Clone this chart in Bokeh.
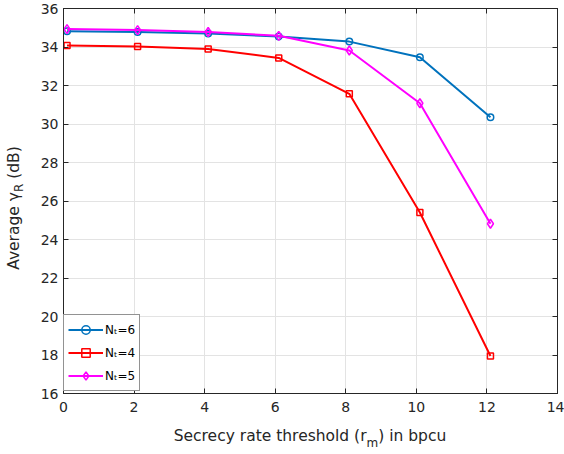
from bokeh.plotting import figure
from bokeh.models import Range1d, FixedTicker, LinearAxis, Legend, LegendItem, Div
from bokeh.layouts import row, column
from bokeh.embed import file_html
from bokeh.resources import INLINE

# Data
rate_threshold = [0.1, 2.1, 4.1, 6.1, 8.1, 10.1, 12.1]
gamma_nt6 = [34.82, 34.78, 34.70, 34.55, 34.28, 33.47, 30.35]
gamma_nt4 = [34.08, 34.03, 33.90, 33.43, 31.57, 25.40, 17.95]
gamma_nt5 = [34.93, 34.88, 34.78, 34.58, 33.82, 31.08, 24.82]
x_ticks = [0, 2, 4, 6, 8, 10, 12, 14]
y_ticks = [16, 18, 20, 22, 24, 26, 28, 30, 32, 34, 36]
series_labels = ["N\u209c=6", "N\u209c=4", "N\u209c=5"]

AX = "#262626"
FONT = "DejaVu Sans"
YLAB_W = 30
XLAB_H = 34
FIG_H = 454 - XLAB_H

p = figure(width=564 - YLAB_W, height=FIG_H, output_backend="svg", toolbar_location=None,
           x_range=Range1d(0, 14), y_range=Range1d(16, 36),
           min_border_left=63 - YLAB_W, min_border_right=7, min_border_top=8,
           min_border_bottom=FIG_H - 393)
p.background_fill_color = "white"
p.border_fill_color = "white"
p.outline_line_color = AX
p.outline_line_width = 1

bottom_ax = p.xaxis[0]
left_ax = p.yaxis[0]
top_ax = LinearAxis()
right_ax = LinearAxis()
p.add_layout(top_ax, "above")
p.add_layout(right_ax, "right")

for ax in (bottom_ax, top_ax):
    ax.ticker = FixedTicker(ticks=x_ticks)
for ax in (left_ax, right_ax):
    ax.ticker = FixedTicker(ticks=y_ticks)
for ax in (bottom_ax, top_ax, left_ax, right_ax):
    ax.axis_line_color = AX
    ax.major_tick_line_color = AX
    ax.major_tick_in = 5
    ax.major_tick_out = 0
    ax.minor_tick_line_color = None
    ax.major_label_text_font = FONT
    ax.major_label_text_font_size = "14px"
    ax.major_label_text_color = AX
bottom_ax.major_label_standoff = 8
left_ax.major_label_standoff = 5
for ax in (top_ax, right_ax):
    ax.major_label_text_color = None
    ax.major_label_text_font_size = "0px"
    ax.major_label_standoff = 0

p.xgrid.ticker = FixedTicker(ticks=x_ticks)
p.ygrid.ticker = FixedTicker(ticks=y_ticks)
p.grid.grid_line_color = "#e3e3e3"
p.grid.grid_line_width = 1

l6 = p.line(rate_threshold, gamma_nt6, line_color="#0072BD", line_width=2)
s6 = p.scatter(rate_threshold, gamma_nt6, marker="circle", size=6.5, line_color="#0072BD",
               fill_alpha=0, line_width=1.5)
l4 = p.line(rate_threshold, gamma_nt4, line_color="#FF0000", line_width=2)
s4 = p.scatter(rate_threshold, gamma_nt4, marker="square", size=6, line_color="#FF0000",
               fill_alpha=0, line_width=1.5)
l5 = p.line(rate_threshold, gamma_nt5, line_color="#FF00FF", line_width=2)
s5 = p.scatter(rate_threshold, gamma_nt5, marker="diamond", size=9, line_color="#FF00FF",
               fill_alpha=0, line_width=1.5)

legend = Legend(items=[LegendItem(label=series_labels[0], renderers=[l6, s6]),
                       LegendItem(label=series_labels[1], renderers=[l4, s4]),
                       LegendItem(label=series_labels[2], renderers=[l5, s5])],
                location=(0, 2))
legend.margin = 0
legend.padding = 4
legend.spacing = 2
legend.glyph_width = 35
legend.glyph_height = 21
legend.label_height = 21
legend.label_standoff = 2
legend.label_text_font = FONT
legend.label_text_font_size = "12px"
legend.label_text_color = "black"
legend.border_line_color = AX
legend.border_line_width = 1
legend.background_fill_color = "white"
legend.background_fill_alpha = 1
p.add_layout(legend, "center")

# Axis titles with subscripts (HTML text)
txt = f"font-family:'{FONT}'; font-size:15.5px; color:{AX}; white-space:nowrap; line-height:1;"
sub = "position:relative; font-size:12px;"
xlabel = Div(
    text=(f"<div style=\"position:absolute; left:{310 - YLAB_W}px; top:17px; "
          f"transform:translate(-50%,-50%); {txt}\">Secrecy rate threshold (r"
          f"<span style=\"{sub} top:6px;\">m</span>) in bpcu</div>"),
    width=564 - YLAB_W, height=XLAB_H, margin=0)
ylabel = Div(
    text=(f"<div style=\"position:absolute; left:15px; top:208px; "
          f"transform:translate(-50%,-50%) rotate(-90deg); {txt}\">Average \u03b3"
          f"<span style=\"{sub} top:4px;\">R</span> (dB)</div>"),
    width=YLAB_W, height=454, margin=0)

layout = row(ylabel, column(p, xlabel, spacing=0), spacing=0)
open("out.html", "w").write(file_html(layout, INLINE))
